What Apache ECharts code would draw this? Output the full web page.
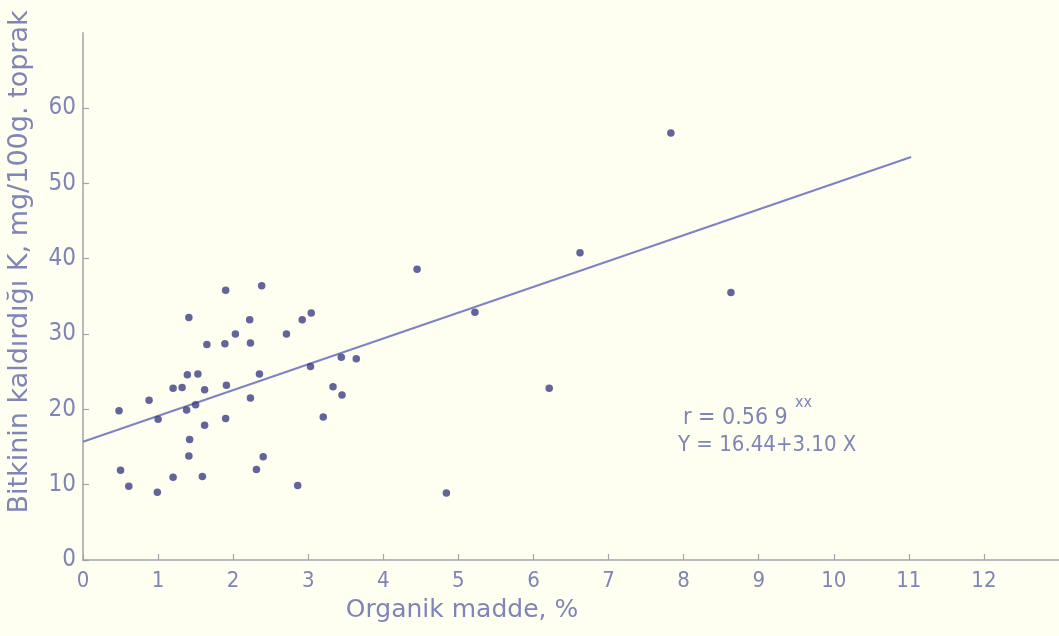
<!DOCTYPE html>
<html>
<head>
<meta charset="utf-8">
<script src="https://cdn.jsdelivr.net/npm/echarts@6/dist/echarts.min.js"></script>
<style>
html,body{margin:0;padding:0;background:#fefef1;}
#chart{width:1059px;height:636px;}
</style>
</head>
<body>
<div id="chart"></div>
<script>
// Organic matter (%) vs K removed by plants (mg/100g soil)
var organikMadde = [1.90,2.38,1.41,2.22,2.92,3.04,2.03,2.71,1.65,1.89,2.23,1.39,1.53,3.44,3.64,3.03,2.35,1.20,1.32,1.62,1.91,3.33,3.45,0.88,2.23,0.48,1.50,1.38,1.00,1.90,1.62,3.20,1.42,1.41,2.40,0.50,2.31,0.61,1.20,1.59,0.99,2.86,4.45,6.62,5.22,4.84,6.21,7.83,8.63];
var bitkiK = [35.8,36.4,32.2,31.9,31.9,32.8,30.0,30.0,28.6,28.7,28.8,24.6,24.7,26.9,26.7,25.7,24.7,22.8,22.9,22.6,23.2,23.0,21.9,21.2,21.5,19.8,20.6,19.9,18.7,18.8,17.9,19.0,16.0,13.8,13.7,11.9,12.0,9.8,11.0,11.1,9.0,9.9,38.6,40.8,32.9,8.9,22.8,56.7,35.5];
// regression line as drawn (end points)
var lineX = [0, 11.03];
var lineY = [15.7, 53.5];
var xTicks = [0,1,2,3,4,5,6,7,8,9,10,11,12];
var yTicks = [0,10,20,30,40,50,60];

var fontF = '"DejaVu Sans Condensed","DejaVu Sans",sans-serif';
var txtColor = '#7f85b6';
var axisColor = '#a3a3ad';

var pts = organikMadde.map(function(x,i){return [x,bitkiK[i]];});
var linePts = lineX.map(function(x,i){return [x,lineY[i]];});

var chart = echarts.init(document.getElementById('chart'), null, {renderer:'canvas'});
chart.setOption({
  backgroundColor:'#fefef1',
  animation:false,
  grid:{left:83, top:32.7, width:979.3, height:527.3, containLabel:false},
  xAxis:{
    type:'value', min:0, max:13, interval:1,
    axisLine:{show:true, onZero:false, lineStyle:{color:axisColor, width:1.5}},
    axisTick:{show:true, inside:true, length:6, customValues:xTicks, lineStyle:{color:axisColor, width:1.2}},
    axisLabel:{show:true, customValues:xTicks, margin:10, color:txtColor, fontFamily:fontF, fontSize:22},
    splitLine:{show:false}
  },
  yAxis:{
    type:'value', min:0, max:70, interval:10,
    axisLine:{show:true, onZero:false, lineStyle:{color:axisColor, width:1.5}},
    axisTick:{show:true, inside:true, length:6, customValues:yTicks, lineStyle:{color:axisColor, width:1.2}},
    axisLabel:{show:true, customValues:yTicks, margin:7, color:txtColor, fontFamily:fontF, fontSize:24},
    splitLine:{show:false}
  },
  series:[
    {type:'line', data:linePts, symbol:'none', lineStyle:{color:'#7d83c3', width:2}, z:2},
    {type:'scatter', data:pts, symbol:'circle', symbolSize:7.5, itemStyle:{color:'#3b3d84'}, z:3}
  ],
  graphic:[
    {type:'text', x:20, y:262, rotation:Math.PI/2,
      style:{text:'Bitkinin kaldırdığı K, mg/100g. toprak', fill:txtColor, font:'27px "DejaVu Sans",sans-serif', textAlign:'center', textVerticalAlign:'middle'}},
    {type:'text', x:462, y:610,
      style:{text:'Organik madde, %', fill:txtColor, font:'25px "DejaVu Sans",sans-serif', textAlign:'center', textVerticalAlign:'middle'}},
    {type:'text', x:683, y:418,
      style:{text:'r = 0.56 9', fill:txtColor, font:'23px '+fontF, textAlign:'left', textVerticalAlign:'middle'}},
    {type:'text', x:795, y:403,
      style:{text:'xx', fill:txtColor, font:'16px '+fontF, textAlign:'left', textVerticalAlign:'middle'}},
    {type:'text', x:678, y:445,
      style:{text:'Y = 16.44+3.10 X', fill:txtColor, font:'22px '+fontF, textAlign:'left', textVerticalAlign:'middle'}}
  ]
});
</script>
</body>
</html>
